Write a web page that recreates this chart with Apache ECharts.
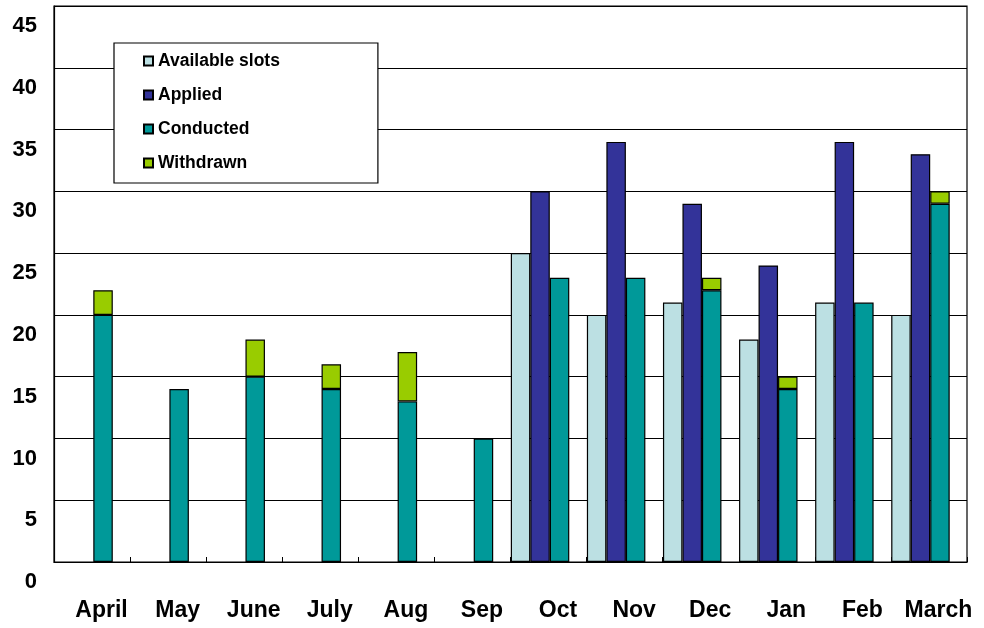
<!DOCTYPE html>
<html>
<head>
<meta charset="utf-8">
<script src="https://cdn.jsdelivr.net/npm/echarts@6/dist/echarts.min.js"></script>
<style>
  html, body { margin: 0; padding: 0; background: #fff; }
  #chart { width: 984px; height: 628px; }
</style>
</head>
<body>
<div id="chart"></div>
<script>
// Monthly session figures
const months = ['April', 'May', 'June', 'July', 'Aug', 'Sep', 'Oct', 'Nov', 'Dec', 'Jan', 'Feb', 'March'];
const availableSlots = [null, null, null, null, null, null, 25, 20, 21, 18, 21, 20];
const applied        = [null, null, null, null, null, null, 30, 34, 29, 24, 34, 33];
const conducted      = [20, 14, 15, 14, 13, 10, 23, 23, 22, 14, 21, 29];
const withdrawn      = [2, null, 3, 2, 4, null, null, null, 1, 1, null, 1];
const yTicks = { min: 0, max: 45, step: 5 };

const FONT = '"Liberation Sans", Arial, sans-serif';
const edge = { borderColor: '#000', borderWidth: 1.2 };

const chart = echarts.init(document.getElementById('chart'), null, { renderer: 'canvas' });

chart.setOption({
  animation: false,
  backgroundColor: '#fff',
  grid: {
    left: 54, top: 6, right: 17, bottom: 66,
    show: true, borderColor: '#000', borderWidth: 1.2, backgroundColor: 'transparent'
  },
  legend: {
    data: ['Available slots', 'Applied', 'Conducted', 'Withdrawn'],
    orient: 'vertical',
    left: 114, top: 43,
    padding: [8, 98, 10, 29],
    itemWidth: 9, itemHeight: 9, itemGap: 14,
    icon: 'rect',
    backgroundColor: '#fff',
    borderColor: '#000', borderWidth: 1.2,
    textStyle: { fontFamily: FONT, fontWeight: 'bold', fontSize: 17.5, lineHeight: 20, color: '#000' }
  },
  xAxis: {
    type: 'category',
    data: months,
    axisLine: { lineStyle: { color: '#000', width: 1.2 } },
    axisTick: { show: true, inside: true, length: 5, interval: 0, lineStyle: { color: '#000' } },
    axisLabel: {
      interval: 0, margin: 37, padding: [0, 0, 0, 19],
      fontFamily: FONT, fontWeight: 'bold', fontSize: 23, color: '#000'
    }
  },
  yAxis: {
    type: 'value',
    min: yTicks.min, max: yTicks.max, interval: yTicks.step,
    axisLine: { show: true, lineStyle: { color: '#000', width: 1.2 } },
    axisTick: { show: false },
    splitLine: { lineStyle: { color: '#000', width: 1.2 } },
    axisLabel: {
      margin: 17, fontFamily: FONT, fontWeight: 'bold', fontSize: 22, color: '#000',
      verticalAlign: 'top', padding: [9, 0, 0, 0]
    }
  },
  series: [
    { name: 'Available slots', type: 'bar', barWidth: 19.5, barGap: '0%',
      itemStyle: Object.assign({ color: '#BCE0E3' }, edge), data: availableSlots },
    { name: 'Applied', type: 'bar', barWidth: 19.5, barGap: '0%',
      itemStyle: Object.assign({ color: '#333399' }, edge), data: applied },
    { name: 'Conducted', type: 'bar', stack: 'held', barWidth: 19.5, barGap: '0%',
      itemStyle: Object.assign({ color: '#009999' }, edge), data: conducted },
    { name: 'Withdrawn', type: 'bar', stack: 'held', barWidth: 19.5, barGap: '0%',
      itemStyle: Object.assign({ color: '#99CC00' }, edge), data: withdrawn },
    // empty spacer column keeps each month's group on the left of its band
    { name: 'spacer', type: 'bar', barWidth: 17, barGap: '0%', silent: true,
      itemStyle: { color: 'transparent' }, data: months.map(() => null) }
  ]
});
</script>
</body>
</html>
